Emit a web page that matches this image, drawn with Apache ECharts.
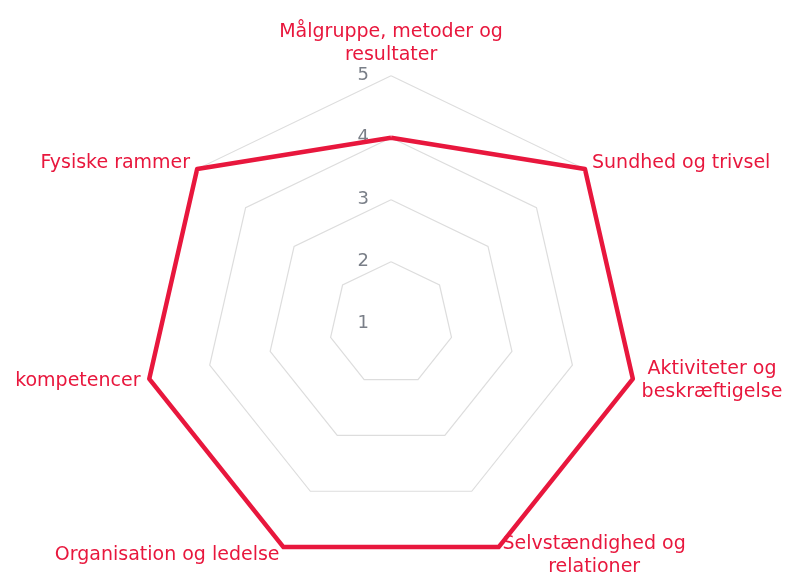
<!DOCTYPE html>
<html>
<head>
<meta charset="utf-8">
<script src="https://cdn.jsdelivr.net/npm/echarts@6/dist/echarts.min.js"></script>
<style>
html,body{margin:0;padding:0;background:#fff;}
#chart{width:790px;height:578px;}
</style>
</head>
<body>
<div id="chart"></div>
<script>
// Indicators listed in ECharts radar order (counter-clockwise from the top)
var indicatorNames = [
  'Målgruppe, metoder og\nresultater',
  'Fysiske rammer',
  'kompetencer',
  'Organisation og ledelse',
  'Selvstændighed og\nrelationer',
  'Aktiviteter og\nbeskræftigelse',
  'Sundhed og trivsel'
];
var scores = [4, 5, 5, 5, 5, 5, 5];
var scaleMin = 1;
var scaleMax = 5;

var red = '#E8173D';
var chart = echarts.init(document.getElementById('chart'), null, {renderer: 'canvas'});
chart.setOption({
  animation: false,
  backgroundColor: '#fff',
  radar: {
    center: ['49.5%', '56%'],
    radius: 248,
    shape: 'polygon',
    splitNumber: 4,
    nameGap: 9,
    axisName: {
      color: red,
      fontFamily: 'DejaVu Sans',
      fontSize: 19,
      lineHeight: 23,
      formatter: function (name) {
        return name.split('\n').map(function (l) { return '{c|' + l + '}'; }).join('\n');
      },
      rich: {
        c: {
          align: 'center',
          color: red,
          fontFamily: 'DejaVu Sans',
          fontSize: 19,
          lineHeight: 23
        }
      }
    },
    axisLine: {show: false},
    axisTick: {show: false},
    splitArea: {show: false},
    splitLine: {lineStyle: {color: '#dddddd', width: 1.2}},
    axisLabel: {show: false},
    indicator: indicatorNames.map(function (n, i) {
      var ind = {name: n, min: scaleMin, max: scaleMax};
      if (i === 0) {
        ind.axisLabel = {show: true, color: '#7a7f88', fontFamily: 'DejaVu Sans', fontSize: 18, margin: 22};
      }
      return ind;
    })
  },
  series: [{
    type: 'radar',
    symbol: 'none',
    lineStyle: {color: red, width: 4.5},
    itemStyle: {color: red},
    data: [{value: scores}]
  }]
});
</script>
</body>
</html>
